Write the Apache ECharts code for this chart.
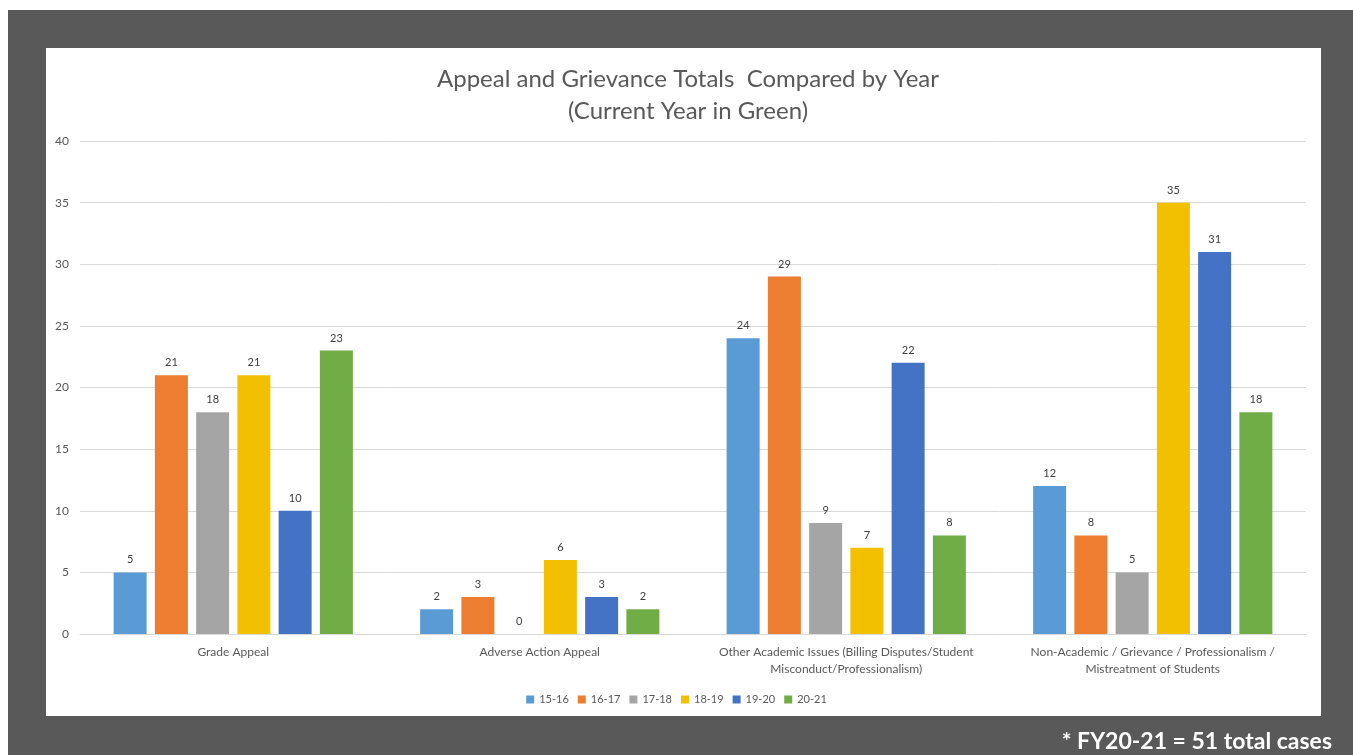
<!DOCTYPE html>
<html><head><meta charset="utf-8">
<script src="https://cdn.jsdelivr.net/npm/echarts@6/dist/echarts.min.js"></script>
<style>html,body{margin:0;padding:0;background:#fff}#c{width:1353px;height:755px}</style>
</head><body><div id="c"></div>
<script>
const categories = ['Grade Appeal', 'Adverse Action Appeal', 'Other Academic Issues (Billing Disputes/Student\nMisconduct/Professionalism)', 'Non-Academic / Grievance / Professionalism /\nMistreatment of Students'];
const seriesNames = ['15-16', '16-17', '17-18', '18-19', '19-20', '20-21'];
const v1516 = [5, 2, 24, 12];
const v1617 = [21, 3, 29, 8];
const v1718 = [18, 0, 9, 5];
const v1819 = [21, 6, 7, 35];
const v1920 = [10, 3, 22, 31];
const v2021 = [23, 2, 8, 18];
const yTicks = [0, 5, 10, 15, 20, 25, 30, 35, 40];
const colors = ['#5B9BD5', '#ED7D31', '#A5A5A5', '#F2C000', '#4472C4', '#70AD47'];
const allValues = [v1516, v1617, v1718, v1819, v1920, v2021];
const FONT = 'Lato, "Open Sans", sans-serif';

const chart = echarts.init(document.getElementById('c'), null, {renderer: 'canvas'});
chart.setOption({
  animation: false,
  backgroundColor: '#ffffff',
  color: colors,
  graphic: [
    {type: 'rect', z: -10, shape: {x: 8, y: 10, width: 1345, height: 745}, style: {fill: '#595959'}},
    {type: 'rect', z: -9, shape: {x: 46, y: 48, width: 1275, height: 668}, style: {fill: '#ffffff'}},
    {type: 'text', right: 21, top: 730, style: {text: '* FY20-21 = 51 total cases', fill: '#ffffff', font: 'bold 23px ' + FONT, textAlign: 'right'}}
  ],
  title: {
    text: 'Appeal and Grievance Totals  Compared by Year\n(Current Year in Green)',
    left: 683, top: 58, textAlign: 'center',
    textStyle: {color: '#595959', fontSize: 24, fontWeight: 'normal', fontFamily: FONT, lineHeight: 32}
  },
  legend: {
    data: seriesNames, left: 'center', top: 689, itemWidth: 8, itemHeight: 8, itemGap: 9,
    icon: 'rect', textStyle: {color: '#595959', fontSize: 11, fontFamily: FONT}
  },
  grid: {left: 80, right: 47, top: 141, bottom: 121, containLabel: false},
  xAxis: {
    type: 'category', data: categories,
    axisLine: {lineStyle: {color: '#d9d9d9'}}, axisTick: {show: false},
    axisLabel: {color: '#595959', fontSize: 12, fontFamily: FONT, margin: 10, lineHeight: 17, interval: 0}
  },
  yAxis: {
    type: 'value', min: 0, max: 40, interval: 5,
    axisLine: {show: false}, axisTick: {show: false},
    splitLine: {lineStyle: {color: '#d9d9d9'}},
    axisLabel: {color: '#595959', fontSize: 12, fontFamily: FONT, margin: 11,
      formatter: v => yTicks.includes(v) ? String(v) : ''}
  },
  series: seriesNames.map((n, i) => ({
    name: n, type: 'bar', data: allValues[i], barWidth: 33, barGap: '25%',
    itemStyle: {color: colors[i]},
    label: {show: true, position: 'top', color: '#404040', fontSize: 11, fontFamily: FONT, distance: 7}
  }))
});
</script></body></html>
